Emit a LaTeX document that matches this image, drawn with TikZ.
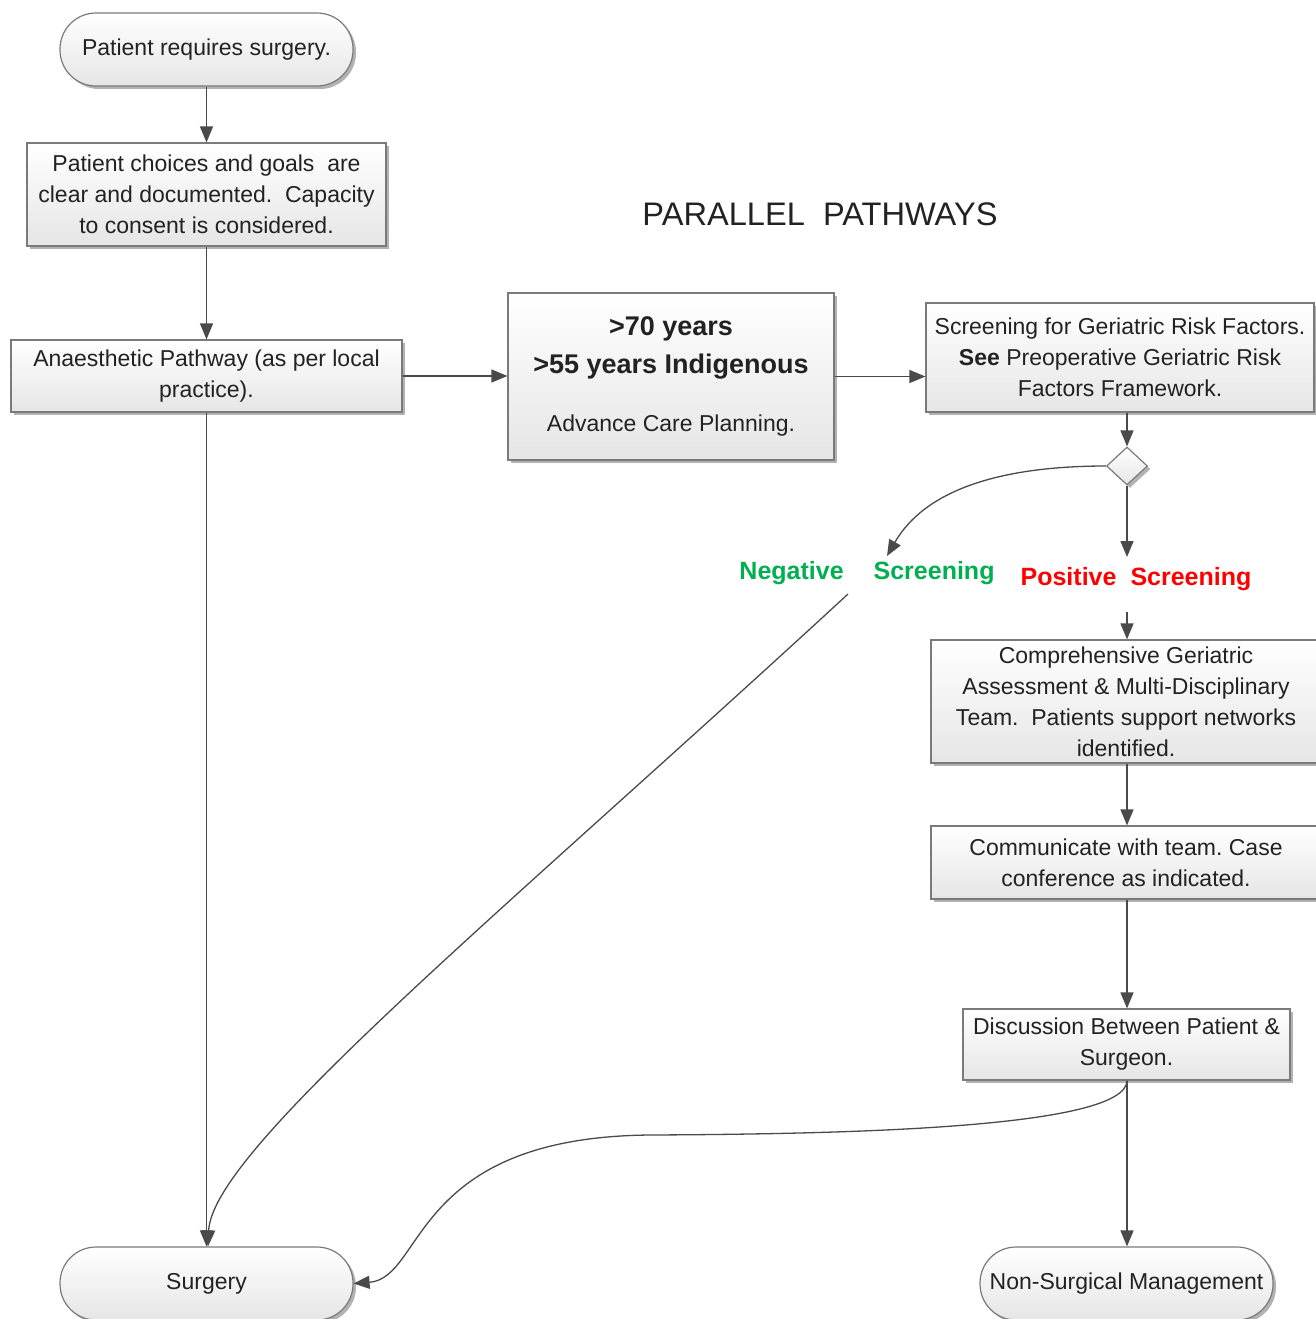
\documentclass[tikz,border=0pt]{standalone}
\usepackage{fontspec}
\setmainfont{Liberation Sans}
\usetikzlibrary{arrows.meta,shadows,shapes.geometric}
\definecolor{linec}{HTML}{4A4A4A}
\definecolor{bordc}{HTML}{7A7A7A}
\definecolor{txtc}{HTML}{222222}
\definecolor{negc}{HTML}{00B050}
\definecolor{posc}{HTML}{FF0000}
\frenchspacing
\begin{document}
\begin{tikzpicture}[x=1pt,y=-1pt,
  base/.style={draw=bordc, line width=1.2pt, top color=white, bottom color=black!10,
    drop shadow={shadow xshift=3pt,shadow yshift=-3pt,opacity=0.3,fill=black},
    text=txtc, align=center, inner sep=0pt, font=\fontsize{23}{31}\selectfont},
  procbox/.style={base, rectangle},
  termbox/.style={base, rectangle, rounded corners=36pt},
  conn/.style={draw=linec, line width=1.3pt, -{Triangle[length=16pt,width=13pt]}},
  lbl/.style={inner sep=0pt, font=\fontsize{25}{30}\selectfont\bfseries},
]
\useasboundingbox (0,0) rectangle (1315,1319);

% nodes
\node[termbox, minimum width=293pt, minimum height=73pt] (start) at (206.5,49.5) {Patient requires surgery.};
\node[procbox, minimum width=359pt, minimum height=103pt] (choices) at (206.5,194.5)
  {Patient choices and goals \ are\\clear and documented. \ Capacity\\to consent is considered.};
\node[procbox, minimum width=391pt, minimum height=72pt] (anaes) at (206.5,376)
  {Anaesthetic Pathway (as per local\\practice).};
\node[procbox, minimum width=326pt, minimum height=167pt, font=\fontsize{27}{38}\selectfont\bfseries] (mid) at (671,376.5)
  {>70 years\\>55 years Indigenous\\[20pt]{\mdseries\fontsize{23}{31}\selectfont Advance Care Planning.}};
\node[procbox, minimum width=388pt, minimum height=109pt] (scr) at (1120,357.5)
  {Screening for Geriatric Risk Factors.\\\textbf{See} Preoperative Geriatric Risk\\Factors Framework.};
\node[base, diamond, minimum width=41pt, minimum height=38pt] (dia) at (1127,466) {};
\node[procbox, minimum width=390pt, minimum height=123pt] (cga) at (1126,701.5)
  {Comprehensive Geriatric\\Assessment \& Multi-Disciplinary\\Team. \ Patients support networks\\identified.};
\node[procbox, minimum width=390pt, minimum height=73pt] (comm) at (1126,862.5)
  {Communicate with team. Case\\conference as indicated.};
\node[procbox, minimum width=327pt, minimum height=71pt] (disc) at (1126.5,1044.5)
  {Discussion Between Patient \&\\Surgeon.};
\node[termbox, minimum width=293pt, minimum height=73pt] (surg) at (206.5,1283.5) {Surgery};
\node[termbox, minimum width=293pt, minimum height=73pt] (nons) at (1126.5,1283.5) {Non-Surgical Management};

% labels
\node[text=txtc, inner sep=0pt, font=\fontsize{32.6}{38}\selectfont] (title) at (820,214) {PARALLEL \ PATHWAYS};
\node[lbl, text=negc] (neg) at (867,573) {Negative\hspace{30pt}Screening};
\node[lbl, text=posc] (pos) at (1136,579) {Positive\hspace{14pt}Screening};
\coordinate (negin) at (887,556);
\coordinate (negout) at (848,594);
\coordinate (posin) at (1127,557);
\coordinate (posout) at (1127,612);

% connectors
\draw[conn] (start) -- (choices);
\draw[conn] (choices) -- (anaes);
\draw[conn] (anaes.east) -- (anaes.east -| mid.west);
\draw[conn] (mid.east) -- (mid.east -| scr.west);
\draw[conn] (anaes.south) -- (surg.north);
\draw[conn] (dia.north |- scr.south) -- (dia.north);
\draw[conn] (dia.south) -- (posin);
\draw[conn] (posout) -- (posout |- cga.north);
\draw[conn] (dia.west) .. controls (1000,466) and (925,490) .. (negin);
\draw[conn] (negout) .. controls (500,915) and (212,1150) .. ([xshift=1.5pt]surg.north);
\draw[conn] (cga.south -| dia.south) -- (comm.north -| dia.south);
\draw[conn] (comm.south -| dia.south) -- (disc.north -| dia.south);
\draw[conn] (disc.south -| dia.south) -- (nons.north -| dia.south);
\draw[conn] (disc.south -| dia.south) .. controls (1126,1128) and (850,1134) .. (650,1135)
  .. controls (410,1137) and (425,1278) .. (surg.east);
\end{tikzpicture}
\end{document}
